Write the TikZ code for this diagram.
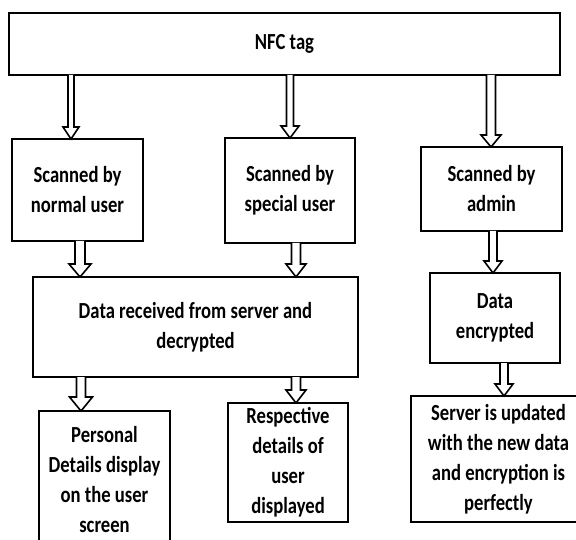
\documentclass[tikz,border=0pt]{standalone}
\usepackage{fontspec}
\setmainfont[FakeStretch=0.81]{Carlito}
\usetikzlibrary{calc}
\tikzset{
  box/.style={draw=black, line width=2.4pt, fill=white, inner sep=0pt, outer sep=0pt,
    align=center, font=\bfseries\fontsize{23}{30}\selectfont},
  arrline/.style={draw=black, line width=1.6pt, line join=miter, fill=white}
}
\newcommand\hollowarrow[6]{%
  \draw[arrline] let \p1=(#2.south), \p2=(#3.north) in
    (#1pt-#4pt,\y1) -- (#1pt-#4pt,\y2+#6pt) -- (#1pt-#5pt,\y2+#6pt) -- (#1pt,\y2)
    -- (#1pt+#5pt,\y2+#6pt) -- (#1pt+#4pt,\y2+#6pt) -- (#1pt+#4pt,\y1);}
\begin{document}
\begin{tikzpicture}[x=1pt,y=-1pt]
\useasboundingbox (0,0) rectangle (576,540);
\clip (0,0) rectangle (576,540);
\fill[white] (0,0) rectangle (576,540);
% boxes
\node[box, minimum width=551pt, minimum height=62pt] (nfc) at (284.5,44) {NFC tag};
\node[box, minimum width=131pt, minimum height=102pt] (nu) at (77.5,190) {Scanned by\\normal user};
\node[box, minimum width=130pt, minimum height=105pt] (su) at (290,190.5) {Scanned by\\special user};
\node[box, minimum width=141pt, minimum height=84pt] (ad) at (491.5,189) {Scanned by\\admin};
\node[box, minimum width=325pt, minimum height=100pt] (dr) at (195.5,327) {Data received from server and\\decrypted};
\node[box, minimum width=130pt, minimum height=90pt] (de) at (495,318) {Data\\encrypted};
\node[box, minimum width=131pt, minimum height=137pt] (pd) at (104.5,479.5) {Personal\\Details display\\on the user\\screen};
\node[box, minimum width=120pt, minimum height=119pt] (rd) at (288,462.5) {Respective\\details of\\user\\displayed};
\node[box, minimum width=175pt, minimum height=126pt] (sv) at (498.5,459) {Server is updated\\with the new data\\and encryption is\\perfectly};
% arrows
\hollowarrow{71}{nfc}{nu}{3}{8}{12}
\hollowarrow{290}{nfc}{su}{3.5}{9}{12}
\hollowarrow{491}{nfc}{ad}{4.5}{10}{12}
\hollowarrow{80}{nu}{dr}{5}{11}{13}
\hollowarrow{296}{su}{dr}{4.5}{10}{13}
\hollowarrow{493}{ad}{de}{4}{9}{12}
\hollowarrow{81}{dr}{pd}{4.5}{11.5}{14}
\hollowarrow{296}{dr}{rd}{4.5}{10}{13}
\hollowarrow{504}{de}{sv}{4}{9}{12}
\end{tikzpicture}
\end{document}
